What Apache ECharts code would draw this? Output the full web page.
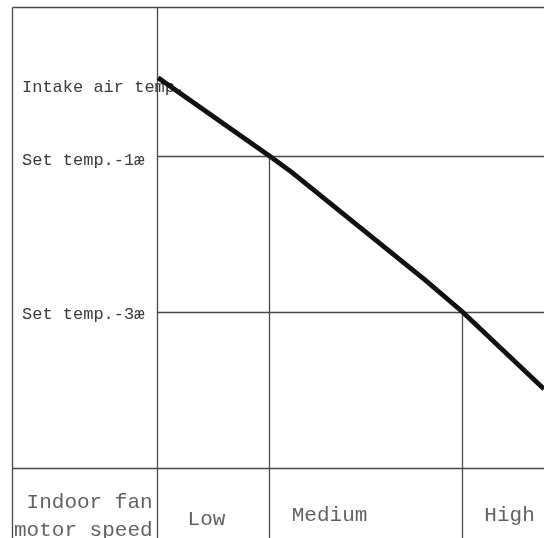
<!DOCTYPE html>
<html>
<head>
<meta charset="utf-8">
<script src="https://cdn.jsdelivr.net/npm/echarts@6/dist/echarts.min.js"></script>
<style>
  html, body { margin: 0; padding: 0; background: #fff; }
  #chart { width: 544px; height: 538px; }
</style>
</head>
<body>
<div id="chart"></div>
<script>
// ---- data ----
const tempLabels = ['Intake air temp.', 'Set temp.-1æ', 'Set temp.-3æ'];
const tempLevels = [0, -1, -3];
const speedNames = ['Low', 'Medium', 'High'];
const speedBoundaries = [28.9, 78.9];      // x where the fan speed changes
const curveX = [0.3, 29.0, 34.8, 69.25, 78.9, 100];
const curveY = [0, -1, -1.21, -2.59, -3.0, -3.99];
const rowHeader = 'Indoor fan\nmotor speed';

// ---- layout (not data) ----
const X_MIN = -37.3, X_MAX = 100;
const Y_MIN = -5.9, Y_MAX = 0.9;
const SPEED_ROW_TOP = -5;
const speedLabelAnchor = { x: [12.8, 44.6, 91.1], y: [-5.66, -5.61, -5.61] };
const headerAnchor = [-1.1, -5.62];
const tempLabelStyleKeys = ['t0', 't1', 't3'];

const FONT = "'Liberation Mono', 'DejaVu Sans Mono', monospace";
const TEXT_COLOR = '#3a3a3a';
const tableLine = { color: '#4a4a4a', width: 1.3, type: 'solid' };

const seg = (x1, y1, x2, y2) => [{ coord: [x1, y1] }, { coord: [x2, y2] }];

const tableLines = [
  seg(X_MIN, Y_MAX, X_MAX, Y_MAX),           // top border
  seg(X_MIN, Y_MAX, X_MIN, Y_MIN),           // left border
  seg(0, Y_MAX, 0, Y_MIN),                   // label column divider
  seg(0, tempLevels[1], X_MAX, tempLevels[1]),
  seg(0, tempLevels[2], X_MAX, tempLevels[2]),
  seg(X_MIN, SPEED_ROW_TOP, X_MAX, SPEED_ROW_TOP),
  seg(speedBoundaries[0], tempLevels[1], speedBoundaries[0], Y_MIN),
  seg(speedBoundaries[1], tempLevels[2], speedBoundaries[1], Y_MIN)
];

const tempRich = {
  t0: { fontFamily: FONT, fontSize: 17, color: TEXT_COLOR, padding: [19, 0, 0, 0] },
  t1: { fontFamily: FONT, fontSize: 17, color: TEXT_COLOR, padding: [10, 0, 0, 0] },
  t3: { fontFamily: FONT, fontSize: 17, color: TEXT_COLOR, padding: [5, 0, 0, 0] }
};

const chart = echarts.init(document.getElementById('chart'), null, { renderer: 'canvas' });
chart.setOption({
  animation: false,
  backgroundColor: '#fff',
  grid: { left: 12.5, right: 0, top: 7.6, bottom: 0, containLabel: false },
  xAxis: {
    type: 'value', min: X_MIN, max: X_MAX, show: false
  },
  yAxis: {
    type: 'value', min: Y_MIN, max: Y_MAX,
    axisLine: { show: false },
    axisTick: { show: false },
    splitLine: { show: false },
    axisLabel: {
      show: true,
      inside: true,
      margin: 9.5,
      align: 'left',
      customValues: tempLevels,
      formatter: v => {
        const i = tempLevels.findIndex(t => Math.abs(t - v) < 1e-6);
        return i >= 0 ? '{' + tempLabelStyleKeys[i] + '|' + tempLabels[i] + '}' : '';
      },
      rich: tempRich,
      fontFamily: FONT,
      fontSize: 17,
      color: TEXT_COLOR
    }
  },
  series: [
    {
      type: 'line',
      data: curveX.map((x, i) => [x, curveY[i]]),
      symbol: 'none',
      lineStyle: { color: '#111', width: 4.8, cap: 'butt', join: 'miter' },
      z: 5,
      markLine: {
        silent: true,
        symbol: ['none', 'none'],
        label: { show: false },
        lineStyle: tableLine,
        data: tableLines,
        z: 1
      }
    },
    {
      type: 'scatter',
      symbolSize: 1,
      itemStyle: { color: 'rgba(0,0,0,0)' },
      silent: true,
      data: speedNames.map((n, i) => ({
        name: n,
        value: [speedLabelAnchor.x[i], speedLabelAnchor.y[i]]
      })).concat([{
        name: rowHeader,
        value: headerAnchor,
        label: { align: 'right', lineHeight: 28 }
      }]),
      label: {
        show: true,
        position: 'inside',
        formatter: '{b}',
        fontFamily: FONT,
        fontSize: 21,
        color: TEXT_COLOR
      }
    }
  ]
});
</script>
</body>
</html>
